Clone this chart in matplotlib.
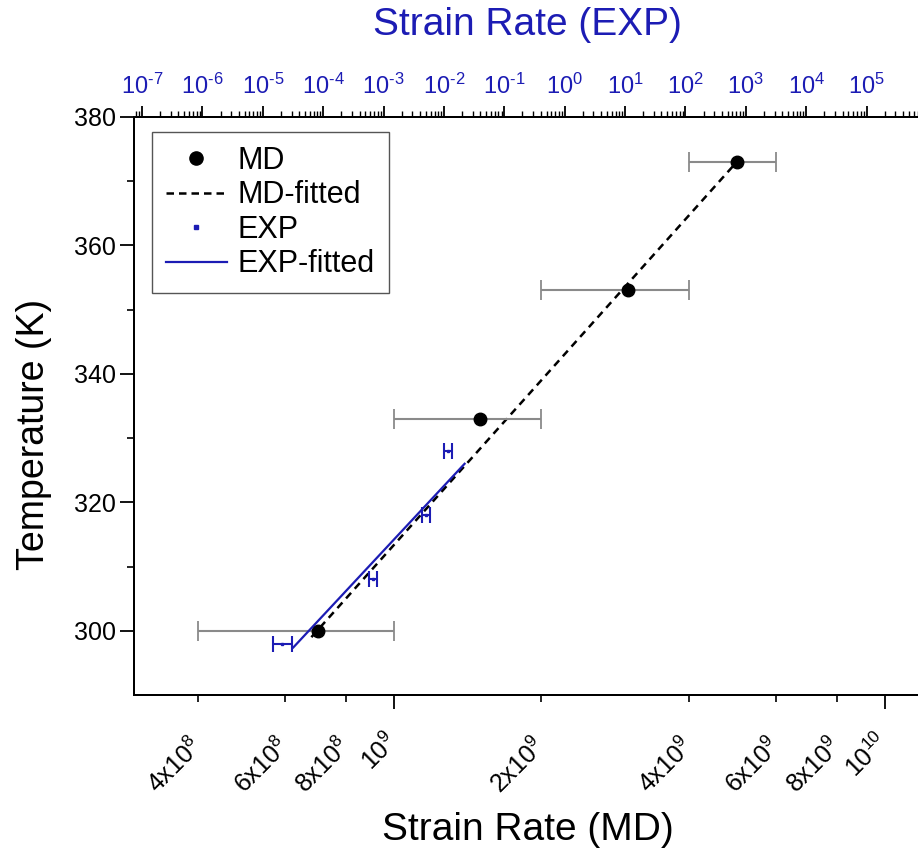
import numpy as np
import matplotlib
matplotlib.use('Agg')
import matplotlib.pyplot as plt
from matplotlib.lines import Line2D
from matplotlib.ticker import FixedLocator, LogLocator, NullFormatter, FixedFormatter

plt.rcParams['font.family'] = ['Liberation Sans', 'DejaVu Sans']
plt.rcParams['mathtext.fontset'] = 'custom'
plt.rcParams['mathtext.rm'] = 'Liberation Sans'
plt.rcParams['mathtext.it'] = 'Liberation Sans:italic'
plt.rcParams['mathtext.bf'] = 'Liberation Sans:bold'

# MD data (bottom axis)
md_rate = [7.0e8, 1.5e9, 3.0e9, 5.0e9]
md_temp = [300, 333, 353, 373]
md_rate_lo = [4.0e8, 1.0e9, 2.0e9, 4.0e9]
md_rate_hi = [1.0e9, 2.0e9, 4.0e9, 6.0e9]
md_fit_rate = [6.8e8, 5.0e9]
md_fit_temp = [299, 373]

# EXP data (top axis)
exp_rate = [2.1e-5, 6.6e-4, 5.0e-3, 1.15e-2]
exp_temp = [298, 308, 318, 328]
exp_rate_lo = [1.45e-5, 5.7e-4, 4.3e-3, 9.9e-3]
exp_rate_hi = [3.1e-5, 7.7e-4, 5.8e-3, 1.34e-2]
exp_fit_rate = [3.2e-5, 2.2e-2]
exp_fit_temp = [297.4, 326]

md_major = [1e9, 1e10]
md_major_labels = ['10$^9$', '10$^{10}$']
md_minor = [4e8, 6e8, 8e8, 2e9, 4e9, 6e9, 8e9]
md_minor_labels = ['4x10$^8$', '6x10$^8$', '8x10$^8$', '2x10$^9$',
                   '4x10$^9$', '6x10$^9$', '8x10$^9$']
exp_ticks = [10.0 ** k for k in range(-7, 6)]
exp_ticklabels = [r'10$^{\text{%d}}$' % k for k in range(-7, 6)]

blue = '#1c1cb4'

fig = plt.figure(figsize=(9.18, 8.5), dpi=100)
ax = fig.add_axes([0.146, 0.1824, 0.858, 0.68])
ax2 = ax.twiny()

# MD
ax.set_xscale('log')
xerr = [np.array(md_rate) - np.array(md_rate_lo), np.array(md_rate_hi) - np.array(md_rate)]
ax.errorbar(md_rate, md_temp, xerr=xerr, fmt='o', color='k', ms=9,
            ecolor='#8a8a8a', elinewidth=1.5, capsize=7, capthick=1.3, zorder=4)
ax.plot(md_fit_rate, md_fit_temp, ls=(0, (3, 2.2)), color='k', lw=1.8, zorder=3)
ax.set_xlim(2.96e8, 1.19e10)
ax.set_ylim(290, 380)

ax.xaxis.set_major_locator(FixedLocator(md_major))
ax.xaxis.set_major_formatter(FixedFormatter(md_major_labels))
ax.xaxis.set_minor_locator(FixedLocator(md_minor))
ax.xaxis.set_minor_formatter(FixedFormatter(md_minor_labels))
ax.tick_params(axis='x', which='major', direction='out', length=10, width=1.3,
               labelsize=18, pad=21)
ax.tick_params(axis='x', which='minor', direction='out', length=5, width=1.2,
               labelsize=18, pad=29)
for lab in ax.get_xticklabels(which='both'):
    lab.set_rotation(45)
    lab.set_ha('right')
    lab.set_va('center')
    lab.set_rotation_mode('anchor')

ax.set_yticks([300, 320, 340, 360, 380])
ax.set_yticks([310, 330, 350, 370], minor=True)
ax.tick_params(axis='y', which='major', direction='out', length=10, width=1.3,
               labelsize=18, pad=3)
ax.tick_params(axis='y', which='minor', direction='out', length=5, width=1.2)
ax.set_xlabel('Strain Rate (MD)', fontsize=28)
ax.xaxis.set_label_coords(0.5, -0.203)
ax.set_ylabel('Temperature (K)', fontsize=27)
ax.yaxis.set_label_coords(-0.104, 0.45)

# EXP
ax2.set_xscale('log')
xerr2 = [np.array(exp_rate) - np.array(exp_rate_lo), np.array(exp_rate_hi) - np.array(exp_rate)]
ax2.errorbar(exp_rate, exp_temp, xerr=xerr2, fmt='s', color=blue, ms=2,
             ecolor=blue, elinewidth=1.5, capsize=5.5, capthick=1.5, zorder=4)
ax2.plot(exp_fit_rate, exp_fit_temp, color=blue, lw=1.6, zorder=2)
ax2.set_xlim(10 ** -7.133, 10 ** 5.913)
ax2.xaxis.set_major_locator(FixedLocator(exp_ticks))
ax2.xaxis.set_major_formatter(FixedFormatter(exp_ticklabels))
ax2.xaxis.set_minor_locator(LogLocator(base=10, subs=np.arange(2, 10), numticks=50))
ax2.xaxis.set_minor_formatter(NullFormatter())
ax2.tick_params(axis='x', which='major', direction='out', length=8, width=1.3,
                labelsize=17, labelcolor=blue, pad=5)
ax2.tick_params(axis='x', which='minor', direction='out', length=4, width=1.0)
ax2.set_xlabel('Strain Rate (EXP)', fontsize=28, color=blue)
ax2.xaxis.set_label_coords(0.5, 1.142)

for a in (ax, ax2):
    for s in a.spines.values():
        s.set_linewidth(1.4)

handles = [
    Line2D([], [], color='k', marker='o', ls='none', ms=9.5),
    Line2D([], [], color='k', ls=(0, (3, 2)), lw=1.8),
    Line2D([], [], color=blue, marker='s', ls='none', ms=3),
    Line2D([], [], color=blue, lw=1.6),
]
labels = ['MD', 'MD-fitted', 'EXP', 'EXP-fitted']
leg = ax2.legend(handles, labels, loc='upper left', bbox_to_anchor=(0.023, 0.974),
                 fontsize=22, frameon=True, fancybox=False, framealpha=1,
                 edgecolor='#555555', handlelength=2.0, handletextpad=0.35,
                 labelspacing=0.15, borderpad=0.45, borderaxespad=0)
leg.get_frame().set_linewidth(1.0)

fig.savefig('out.png', dpi=100, facecolor='w')
